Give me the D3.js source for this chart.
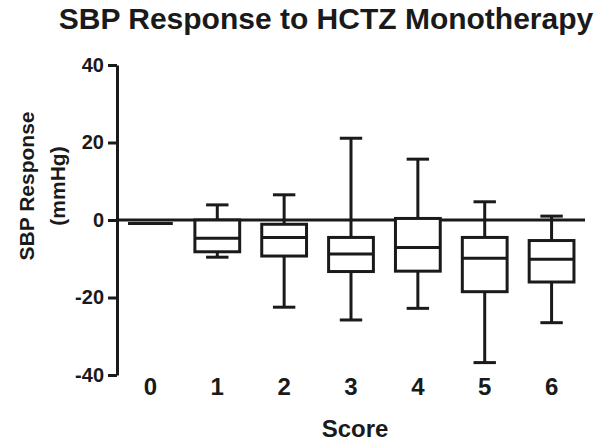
<!DOCTYPE html>
<html>
<head>
	<title>SBP Response to HCTZ Monotherapy</title>
	<meta charset="utf-8">
	<style type="text/css">
	body{
		margin:0;
		background:#fff;
	}
	svg text{
		font-family:Arial, "Liberation Sans", sans-serif;
		font-weight:bold;
		fill:#1a1a1a;
	}
	.box rect, .box line, .zero, .y-axis path, .y-axis line{
		stroke:#1a1a1a;
		stroke-width:3;
		fill:none;
	}
	.box rect{
		fill:#fff;
	}
	</style>
	<script type="text/javascript" src="https://cdn.jsdelivr.net/npm/d3@7"></script>
</head>
<body>
<script type="text/javascript">
	var width = 600;
	var height = 445;

	// box plot data per score (mmHg)
	var scores  = ["0", "1", "2", "3", "4", "5", "6"];
	var maxs    = [-0.9,  3.9,   6.5,  21.1,  15.7,   4.7,   1.0];
	var q3s     = [-0.9,  0.0,  -1.1,  -4.5,   0.4,  -4.5,  -5.3];
	var medians = [-0.9, -4.7,  -4.5,  -8.8,  -7.1,  -9.9, -10.1];
	var q1s     = [-0.9, -8.2,  -9.3, -13.3, -13.2, -18.5, -16.0];
	var mins    = [-0.9, -9.6, -22.5, -25.8, -22.8, -36.8, -26.5];
	var yTicks  = [-40, -20, 0, 20, 40];

	var margin = {top:65, right:15, bottom:70, left:117};

	var svg = d3.select("body")
				.append("svg")
				.attr("width", width)
				.attr("height", height);

	var x = d3.scaleBand()
			.domain(scores)
			.range([margin.left, width - margin.right])
			.paddingInner(0.33)
			.paddingOuter(0.165);

	var y = d3.scaleLinear()
			.domain([-40, 40])
			.range([height - margin.bottom, margin.top]);

	var boxes = scores.map(function(s, i){
		return {score:s, max:maxs[i], q3:q3s[i], med:medians[i], q1:q1s[i], min:mins[i]};
	});

	//title
	svg.append("text")
		.attr("x", 326)
		.attr("y", 29)
		.attr("text-anchor", "middle")
		.style("font-size", "30px")
		.text("SBP Response to HCTZ Monotherapy");

	//y axis (plain hyphen like the original, not d3's unicode minus)
	svg.append("g")
		.attr("class", "y-axis")
		.attr("transform", "translate(" + margin.left + ",0)")
		.call(d3.axisLeft(y).tickValues(yTicks).tickSize(9).tickSizeOuter(0).tickPadding(4)
			.tickFormat(function(d){ return String(d); }))
		.call(function(g){
			g.selectAll("text").style("font-size", "20px");
		});

	//zero line
	svg.append("line")
		.attr("class", "zero")
		.attr("x1", margin.left)
		.attr("x2", width - margin.right)
		.attr("y1", y(0))
		.attr("y2", y(0));

	//x labels
	svg.append("g")
		.attr("transform", "translate(0," + y(-40) + ")")
		.call(d3.axisBottom(x).tickSize(0).tickPadding(3))
		.call(function(g){
			g.select(".domain").remove();
			g.selectAll("text").style("font-size", "24px");
		});

	//boxes
	var bw = x.bandwidth();
	var box = svg.append("g")
				.selectAll("g")
				.data(boxes)
				.enter()
				.append("g")
				.attr("class", "box")
				.attr("transform", function(d){ return "translate(" + x(d.score) + ",0)"; });

	box.filter(function(d){ return d.max > d.q3; })
		.append("line")
		.attr("x1", bw/2).attr("x2", bw/2)
		.attr("y1", function(d){ return y(d.max); })
		.attr("y2", function(d){ return y(d.q3); });

	box.filter(function(d){ return d.min < d.q1; })
		.append("line")
		.attr("x1", bw/2).attr("x2", bw/2)
		.attr("y1", function(d){ return y(d.q1); })
		.attr("y2", function(d){ return y(d.min); });

	box.filter(function(d){ return d.max > d.q3; })
		.append("line")
		.attr("x1", bw/4).attr("x2", bw*3/4)
		.attr("y1", function(d){ return y(d.max); })
		.attr("y2", function(d){ return y(d.max); });

	box.filter(function(d){ return d.min < d.q1; })
		.append("line")
		.attr("x1", bw/4).attr("x2", bw*3/4)
		.attr("y1", function(d){ return y(d.min); })
		.attr("y2", function(d){ return y(d.min); });

	box.append("rect")
		.attr("x", 0)
		.attr("width", bw)
		.attr("y", function(d){ return y(d.q3); })
		.attr("height", function(d){ return y(d.q1) - y(d.q3); })
		.style("stroke-width", function(d){ return d.q1 == d.q3 ? 4 : 3; });

	box.append("line")
		.attr("x1", 0).attr("x2", bw)
		.attr("y1", function(d){ return y(d.med); })
		.attr("y2", function(d){ return y(d.med); });

	//axis titles
	var yTitle = svg.append("text")
				.attr("transform", "translate(34,186) rotate(-90)")
				.attr("text-anchor", "middle")
				.style("font-size", "21px");
	yTitle.append("tspan").attr("x", 0).attr("y", 0).text("SBP Response");
	yTitle.append("tspan").attr("x", 0).attr("y", 31).text("(mmHg)");

	svg.append("text")
		.attr("x", 355)
		.attr("y", 437)
		.attr("text-anchor", "middle")
		.style("font-size", "24px")
		.text("Score");
</script>
</body>
</html>
